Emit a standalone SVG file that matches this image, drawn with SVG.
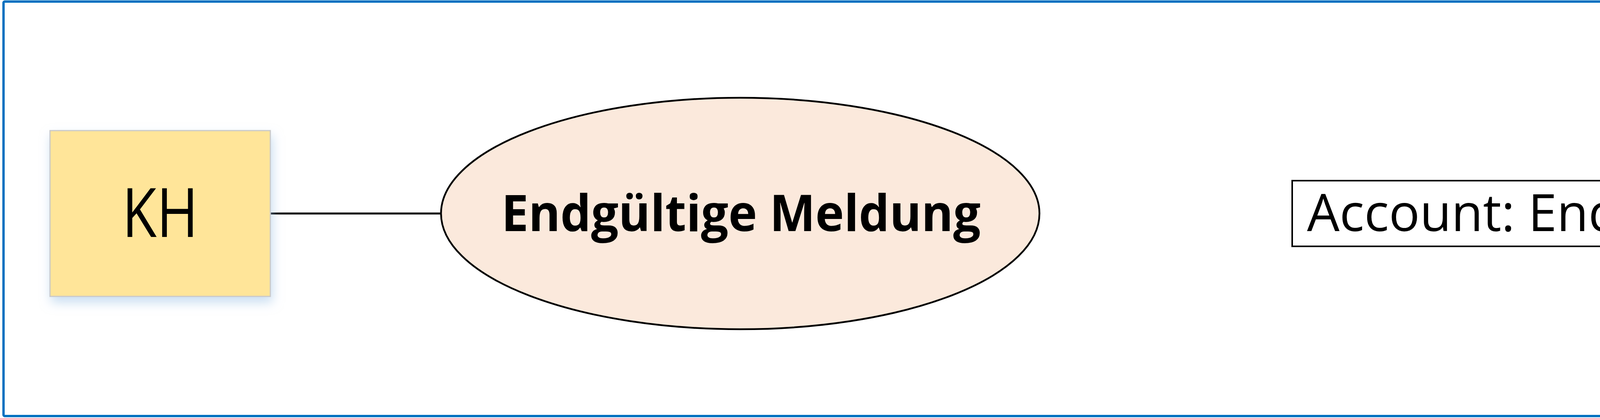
<svg xmlns="http://www.w3.org/2000/svg" width="5794" height="1069" viewBox="0 0 5794 1069">
  <style>
    .lbl { font-family: "Open Sans", "Noto Sans", "Liberation Sans", sans-serif; fill: #000000; }
    .conn { stroke: #000000; stroke-width: 5; fill: none; }
  </style>
  <defs>
    <filter id="shadow" x="-20%" y="-20%" width="150%" height="150%">
      <feDropShadow dx="4" dy="14" stdDeviation="14" flood-color="#9DC3E6" flood-opacity="0.55"/>
    </filter>
  </defs>
  <rect x="0" y="0" width="5794" height="1069" fill="#FFFFFF"/>
  <g id="frame">
    <rect x="9" y="4" width="5777" height="1060" rx="3" fill="none" stroke="#0070C0" stroke-width="6"/>
  </g>
  <g id="connectors">
    <line class="conn" x1="692" y1="546" x2="1130" y2="546"/>
  </g>
  <g id="node-kh">
    <rect x="128" y="334" width="564" height="424" fill="#FFE599" stroke="#C9C9C9" stroke-width="3" filter="url(#shadow)"/>
    <text class="lbl" x="410" y="606" font-size="174" text-anchor="middle" textLength="195" lengthAdjust="spacingAndGlyphs">KH</text>
  </g>
  <g id="node-usecase">
    <ellipse cx="1895" cy="546" rx="766" ry="296" fill="#FBE9DC" stroke="#000000" stroke-width="4.5"/>
    <text class="lbl" x="1897" y="591" font-size="130" font-weight="bold" text-anchor="middle" textLength="1227" lengthAdjust="spacingAndGlyphs">Endgültige Meldung</text>
  </g>
  <g id="node-account">
    <rect x="3308" y="462" width="2080" height="168" fill="#FFFFFF" stroke="#000000" stroke-width="4"/>
    <text class="lbl" x="3346" y="591" font-size="132" textLength="1786" lengthAdjust="spacingAndGlyphs">Account: Endgültige Meldung</text>
  </g>
</svg>
